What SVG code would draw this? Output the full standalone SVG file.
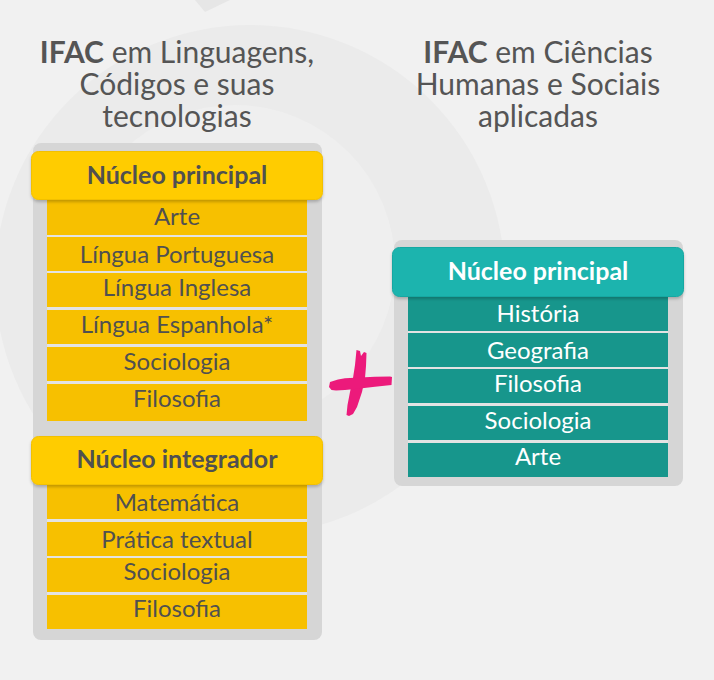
<svg xmlns="http://www.w3.org/2000/svg" width="714" height="680" viewBox="0 0 714 680">
  <defs>
    <filter id="sh" x="-5%" y="-20%" width="110%" height="150%">
      <feDropShadow dx="0" dy="2" stdDeviation="1.5" flood-color="#000" flood-opacity="0.22"/>
    </filter>
  </defs>
  <style>
    .title{font-family:Lato,"Liberation Sans",sans-serif;font-size:30px;fill:#555555;text-anchor:middle}
    .b{font-weight:bold}
    .panel{fill:#d6d6d6}
    .gap{fill:#e3e3e3}
    .hy{fill:#ffcc00;stroke:#f2c000;stroke-width:1}
    .ht{fill:#1db4ae;stroke:#19a8a2;stroke-width:1}
    .ry{fill:#f7c000}
    .rt{fill:#17968c}
    .hlab{font-family:Lato,"Liberation Sans",sans-serif;font-size:25px;font-weight:bold;text-anchor:middle}
    .lab{font-family:Lato,"Liberation Sans",sans-serif;font-size:24px;text-anchor:middle}
    .dk{fill:#505050}
    .wh{fill:#ffffff}
  </style>

  <!-- background -->
  <rect x="0" y="0" width="714" height="680" fill="#f1f1f1"/>
  <circle cx="250" cy="280" r="255" fill="#ebebeb"/>
  <circle cx="235" cy="265" r="160" fill="#efefef"/>
  <path d="M195,0 L230,0 L205,12 Z" fill="#e6e6e6"/>

  <!-- Titles -->
  <g id="title-left">
    <text class="title" x="177" y="63"><tspan class="b">IFAC</tspan> em Linguagens,</text>
    <text class="title" x="177" y="95">Códigos e suas</text>
    <text class="title" x="177" y="127">tecnologias</text>
  </g>
  <g id="title-right">
    <text class="title" x="538" y="63"><tspan class="b">IFAC</tspan> em Ciências</text>
    <text class="title" x="538" y="95">Humanas e Sociais</text>
    <text class="title" x="538" y="127">aplicadas</text>
  </g>

  <!-- Left panel -->
  <g id="panel-left">
    <rect class="panel" x="33" y="143" width="289" height="497" rx="8"/>
  </g>

  <g id="left-principal">
    <rect class="gap" x="47" y="200" width="260" height="221"/>
    <rect class="ry" x="47" y="200" width="260" height="35"/>
    <rect class="ry" x="47" y="237" width="260" height="34"/>
    <rect class="ry" x="47" y="273" width="260" height="34"/>
    <rect class="ry" x="47" y="310" width="260" height="34"/>
    <rect class="ry" x="47" y="347" width="260" height="34"/>
    <rect class="ry" x="47" y="384" width="260" height="37"/>
    <rect class="hy" x="31.5" y="151.5" width="291" height="48" rx="7" filter="url(#sh)"/>
    <text class="hlab dk" x="177" y="184">Núcleo principal</text>
    <text class="lab dk" x="177" y="225">Arte</text>
    <text class="lab dk" x="177" y="263">Língua Portuguesa</text>
    <text class="lab dk" x="177" y="296">Língua Inglesa</text>
    <text class="lab dk" x="177" y="333">Língua Espanhola*</text>
    <text class="lab dk" x="177" y="370">Sociologia</text>
    <text class="lab dk" x="177" y="407">Filosofia</text>
  </g>

  <g id="left-integrador">
    <rect class="gap" x="47" y="485" width="260" height="144"/>
    <rect class="ry" x="47" y="485" width="260" height="34"/>
    <rect class="ry" x="47" y="522" width="260" height="34"/>
    <rect class="ry" x="47" y="558" width="260" height="34"/>
    <rect class="ry" x="47" y="595" width="260" height="34"/>
    <rect class="hy" x="31.5" y="436.5" width="291" height="48" rx="7" filter="url(#sh)"/>
    <text class="hlab dk" x="177" y="468">Núcleo integrador</text>
    <text class="lab dk" x="177" y="511">Matemática</text>
    <text class="lab dk" x="177" y="548">Prática textual</text>
    <text class="lab dk" x="177" y="580">Sociologia</text>
    <text class="lab dk" x="177" y="617">Filosofia</text>
  </g>

  <!-- Right panel -->
  <g id="panel-right">
    <rect class="panel" x="394" y="240" width="289" height="246" rx="8"/>
  </g>
  <g id="right-principal">
    <rect class="gap" x="408" y="297" width="260" height="180"/>
    <rect class="rt" x="408" y="297" width="260" height="34"/>
    <rect class="rt" x="408" y="333" width="260" height="34"/>
    <rect class="rt" x="408" y="369" width="260" height="34"/>
    <rect class="rt" x="408" y="406" width="260" height="34"/>
    <rect class="rt" x="408" y="443" width="260" height="34"/>
    <rect class="ht" x="392.5" y="247.5" width="291" height="49" rx="7" filter="url(#sh)"/>
    <text class="hlab wh" x="538" y="280">Núcleo principal</text>
    <text class="lab wh" x="538" y="322">História</text>
    <text class="lab wh" x="538" y="359">Geografia</text>
    <text class="lab wh" x="538" y="392">Filosofia</text>
    <text class="lab wh" x="538" y="429">Sociologia</text>
    <text class="lab wh" x="538" y="465">Arte</text>
  </g>

  <!-- plus sign -->
  <g id="plus" fill="#ec1a7b">
    <path d="M356.5,350 L360,351 L361,356 L364,352 L366.5,353 L366,366 L365,378 L362,392 L357,407 L353,414 L349,416 L346.5,415 L347.5,405 L350,392 L353,378 L355,365 Z"/>
    <path d="M330,382 L338,379.5 L345,378.3 L360,377.5 L375,376.7 L390,376.5 L392,377 L391.5,385 L375,386.7 L360,388.5 L345,390 L336,390.5 L331.5,390 L329,387 Z"/>
  </g>
</svg>
